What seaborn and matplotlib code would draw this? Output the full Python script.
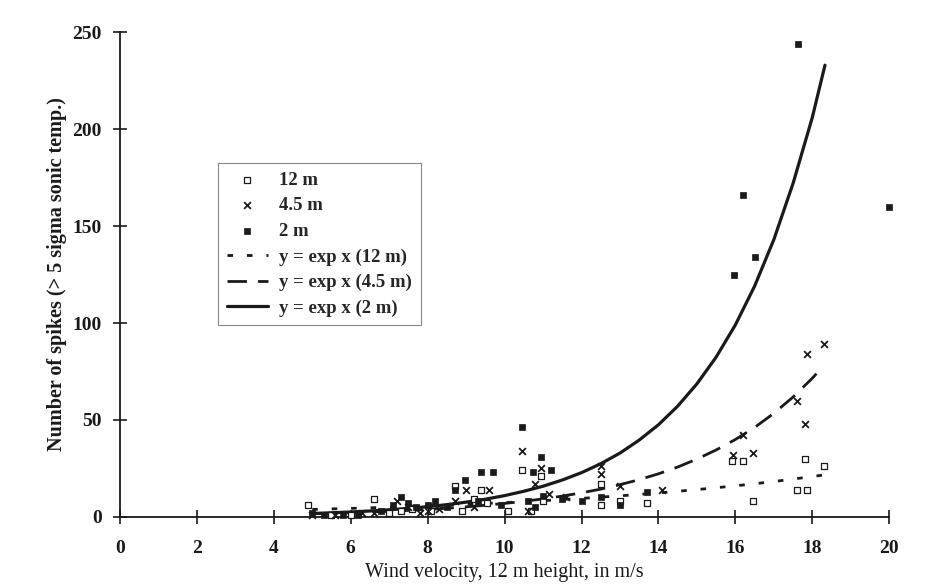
import numpy as np
import pandas as pd
import matplotlib
matplotlib.use("Agg")
import matplotlib.pyplot as plt
import seaborn as sns

# ---- data ----
x_12m = [4.9, 5.5, 6.0, 6.6, 7.0, 7.3, 7.6, 8.1, 8.7, 8.9, 9.2, 9.4, 9.55, 10.1, 10.45,
         10.7, 10.95, 11.0, 12.5, 12.5, 13.0, 13.7, 15.9, 16.2, 16.45, 17.6, 17.85, 17.8, 18.3]
y_12m = [6, 1, 1, 9, 2, 3, 4, 3, 16, 3, 9, 14, 7, 3, 24,
         3, 21, 8, 17, 6, 8, 7, 29, 29, 8, 14, 14, 30, 26]

x_45m = [5.0, 5.6, 6.3, 6.6, 7.2, 7.5, 7.8, 8.0, 8.3, 8.7, 9.0, 9.2, 9.6, 10.45, 10.6,
         10.8, 10.95, 11.15, 11.6, 12.5, 12.5, 13.0, 14.1, 15.95, 16.2, 16.46, 17.6, 17.8, 17.87, 18.3]
y_45m = [1, 1, 2, 2, 8, 5, 2, 3, 4, 8, 14, 5, 14, 34, 3,
         17, 25, 12, 10, 26, 22, 16, 14, 32, 42, 33, 60, 48, 84, 89]

x_2m = [5.0, 5.3, 5.8, 6.2, 6.8, 7.1, 7.3, 7.5, 7.7, 8.0, 8.2, 8.5, 8.7, 8.97, 9.3, 9.4,
        9.7, 9.9, 10.45, 10.6, 10.75, 10.8, 10.95, 11.0, 11.2, 11.5, 12.0, 12.5, 13.0, 13.7,
        15.97, 16.2, 16.5, 17.63, 20.0]
y_2m = [2, 1, 1, 1, 3, 6, 10, 7, 5, 6, 8, 5, 14, 19, 8, 23,
        23, 6, 46.5, 8, 23, 5, 31, 11, 24, 9, 8, 10, 6, 13,
        125, 166, 134, 244, 160]

# fitted curves as drawn
cx_2m = [5.0, 5.5, 6.0, 6.5, 7.0, 7.5, 8.0, 8.5, 9.0, 9.5, 10.0, 10.5, 11.0, 11.5, 12.0,
         12.5, 13.0, 13.5, 14.0, 14.5, 15.0, 15.5, 16.0, 16.5, 17.0, 17.5, 18.0, 18.33]
cy_2m = [1.75, 2.10, 2.52, 3.03, 3.64, 4.37, 5.26, 6.31, 7.59, 9.11, 10.95, 13.2, 15.8, 19.0, 22.8,
         27.4, 32.9, 39.6, 47.5, 57.1, 68.6, 82.4, 99.0, 119, 143, 172, 206, 233]
cx_45m = [5.0, 5.5, 6.0, 6.5, 7.0, 7.5, 8.0, 8.5, 9.0, 9.5, 10.0, 10.5, 11.0, 11.5, 12.0,
          12.5, 13.0, 13.5, 14.0, 14.5, 15.0, 15.5, 16.0, 16.5, 17.0, 17.5, 18.0, 18.3]
cy_45m = [1.61, 1.86, 2.15, 2.49, 2.88, 3.33, 3.86, 4.46, 5.17, 5.98, 6.92, 8.0, 9.26, 10.7, 12.4,
          14.3, 16.6, 19.2, 22.2, 25.7, 29.8, 34.5, 39.9, 46.1, 53.4, 61.8, 71.5, 78.1]
cx_12m = [5, 6, 7, 8, 9, 10, 11, 12, 13, 14, 15, 16, 17, 18, 18.3]
cy_12m = [3.83, 4.36, 4.97, 5.66, 6.44, 7.34, 8.36, 9.52, 10.84, 12.34, 14.06, 16.0, 18.2, 20.8, 21.6]

x_ticks = [0, 2, 4, 6, 8, 10, 12, 14, 16, 18, 20]
y_ticks = [0, 50, 100, 150, 200, 250]

# ---- styling ----
sns.set_style("ticks")
plt.rcParams["font.family"] = ["Liberation Serif", "DejaVu Serif"]

INK = "#1a1a1a"
fig = plt.figure(figsize=(9.37, 5.86), dpi=100)
ax = fig.add_axes([0.128, 0.118, 0.821, 0.827])

d12 = pd.DataFrame({"x": x_12m, "y": y_12m})
d45 = pd.DataFrame({"x": x_45m, "y": y_45m})
d2 = pd.DataFrame({"x": x_2m, "y": y_2m})
c12 = pd.DataFrame({"x": cx_12m, "y": cy_12m})
c45 = pd.DataFrame({"x": cx_45m, "y": cy_45m})
c2 = pd.DataFrame({"x": cx_2m, "y": cy_2m})

sns.lineplot(data=c12, x="x", y="y", ax=ax, color=INK, lw=2.0,
             linestyle=(0, (2, 5)), sort=False, label="y = exp x (12 m)")
sns.lineplot(data=c45, x="x", y="y", ax=ax, color=INK, lw=2.0,
             linestyle=(0, (7, 4)), sort=False, label="y = exp x (4.5 m)")
sns.lineplot(data=c2, x="x", y="y", ax=ax, color=INK, lw=2.3,
             linestyle="-", sort=False, label="y = exp x (2 m)")

sns.scatterplot(data=d12, x="x", y="y", ax=ax, marker="s", s=22, facecolor="white",
                edgecolor=INK, linewidth=0.9, label="12 m", clip_on=False, zorder=3)
sns.scatterplot(data=d45, x="x", y="y", ax=ax, marker="x", s=24, color=INK,
                linewidth=1.3, label="4.5 m", clip_on=False, zorder=3)
sns.scatterplot(data=d2, x="x", y="y", ax=ax, marker="s", s=22, color=INK,
                edgecolor=INK, linewidth=0.5, label="2 m", clip_on=False, zorder=3)

ax.set_xlim(0, 20)
ax.set_ylim(0, 250)
ax.set_xticks(x_ticks)
ax.set_yticks(y_ticks)
ax.set_xticklabels([str(t) for t in x_ticks], fontweight="bold", fontsize=14)
ax.set_yticklabels([str(t) for t in y_ticks], fontweight="bold", fontsize=14)
ax.tick_params(direction="inout", length=10, width=1.2, colors=INK)
ax.tick_params(axis="y", pad=8)
ax.tick_params(axis="x", pad=12)
for side in ["top", "right"]:
    ax.spines[side].set_visible(False)
for side in ["left", "bottom"]:
    ax.spines[side].set_linewidth(1.3)
    ax.spines[side].set_color(INK)

ax.set_xlabel("Wind velocity, 12 m height, in m/s", fontsize=14.5, color=INK, labelpad=4)
ax.set_ylabel("Number of spikes (> 5 sigma sonic temp.)", fontsize=14.5, fontweight="bold",
              color=INK, labelpad=4)

handles, labels = ax.get_legend_handles_labels()
order = ["12 m", "4.5 m", "2 m", "y = exp x (12 m)", "y = exp x (4.5 m)", "y = exp x (2 m)"]
hmap = dict(zip(labels, handles))
leg = ax.legend([hmap[k] for k in order], order, loc="upper left",
                bbox_to_anchor=(0.128, 0.73), frameon=True, fancybox=False,
                edgecolor="#888888", framealpha=1, borderpad=0.45, labelspacing=0.45,
                handlelength=2.2, handletextpad=0.6, borderaxespad=0,
                prop={"weight": "bold", "size": 13.5, "family": "Liberation Serif"})
leg.get_frame().set_linewidth(0.8)

fig.savefig("out.png", dpi=100, facecolor="white")
